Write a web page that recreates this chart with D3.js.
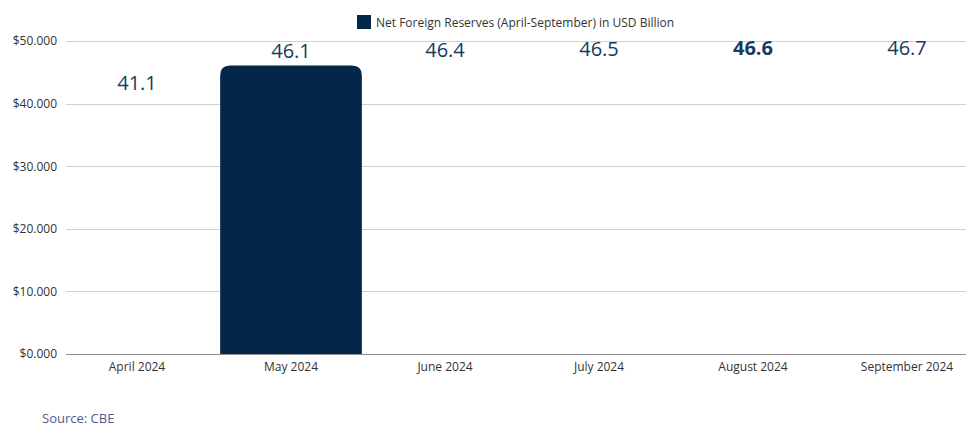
<!DOCTYPE html>
<html>
<head>
<meta charset="utf-8">
<script src="https://cdn.jsdelivr.net/npm/d3@7"></script>
<style>
  html, body { margin: 0; padding: 0; background: #fff; }
  svg { display: block; font-family: "Open Sans", "Noto Sans", sans-serif; }
</style>
</head>
<body>
<svg id="chart" width="966" height="426"></svg>
<script>
// Net foreign reserves, USD billion
const months = ["April 2024", "May 2024", "June 2024", "July 2024", "August 2024", "September 2024"];
const reserves = [41.1, 46.1, 46.4, 46.5, 46.6, 46.7];
const shownBars = [false, true, false, false, false, false];
const boldLabels = [false, false, false, false, true, false];
const yTicks = [0, 10, 20, 30, 40, 50];
const legendLabel = "Net Foreign Reserves (April-September) in USD Billion";
const sourceText = "Source: CBE";

const svg = d3.select("#chart");
const navy = "#022749";
const margin = { left: 60, right: -18, top: 41, bottom: 72 };
const W = 966, H = 426;

const x = d3.scaleBand().domain(months)
  .range([margin.left, W - margin.right]).paddingInner(0.08).paddingOuter(0.04);
const y = d3.scaleLinear().domain([0, 50]).range([H - margin.bottom, margin.top]);

// gridlines
svg.append("g").selectAll("line").data(yTicks).join("line")
  .attr("x1", 66).attr("x2", W)
  .attr("y1", d => Math.round(y(d)) + 0.5).attr("y2", d => Math.round(y(d)) + 0.5)
  .attr("stroke", d => d === 0 ? "#8c8c8c" : "#d0d0d0").attr("stroke-width", 1);

// y axis labels
const yAxis = d3.axisLeft(y).tickValues(yTicks).tickSize(0).tickPadding(0)
  .tickFormat(d => "$" + d3.format(".3f")(d));
svg.append("g").attr("transform", "translate(57,0)").call(yAxis)
  .call(g => g.select(".domain").remove())
  .call(g => g.selectAll("text").attr("font-size", 12).attr("fill", "#333")
    .attr("font-family", "'Open Sans', sans-serif"));

// x axis labels
const xAxis = d3.axisBottom(x).tickSize(0).tickPadding(0);
svg.append("g").attr("transform", `translate(0,${y(0) + 8})`).call(xAxis)
  .call(g => g.select(".domain").remove())
  .call(g => g.selectAll("text").attr("font-size", 12).attr("fill", "#333")
    .attr("font-family", "'Open Sans', sans-serif"));

// bars with rounded tops
const r = 10;
function barPath(i) {
  const x0 = x(months[i]), w = x.bandwidth();
  const y0 = y(reserves[i]), yb = y(0);
  return `M${x0},${yb}V${y0 + r}Q${x0},${y0} ${x0 + r},${y0}H${x0 + w - r}Q${x0 + w},${y0} ${x0 + w},${y0 + r}V${yb}Z`;
}
svg.append("g").selectAll("path").data(reserves).join("path")
  .attr("d", (d, i) => barPath(i))
  .attr("fill", navy)
  .attr("fill-opacity", (d, i) => shownBars[i] ? 1 : 0);

// value labels
svg.append("g").selectAll("text").data(reserves).join("text")
  .attr("x", (d, i) => x(months[i]) + x.bandwidth() / 2)
  .attr("y", d => y(d) - 7)
  .attr("text-anchor", "middle")
  .attr("font-size", 20)
  .attr("font-weight", (d, i) => boldLabels[i] ? 700 : 400)
  .attr("fill", "#183a5e")
  .text(d => d3.format(".1f")(d));

// legend
const lg = svg.append("g").attr("transform", "translate(357,15)");
lg.append("rect").attr("width", 14).attr("height", 14).attr("fill", navy);
lg.append("text").attr("x", 19).attr("y", 11.5).attr("font-size", 12).attr("fill", "#333")
  .text(legendLabel);

// source note
svg.append("text").attr("x", 42).attr("y", 423).attr("font-size", 13).attr("fill", "#4b5b8c")
  .text(sourceText);
</script>
</body>
</html>
